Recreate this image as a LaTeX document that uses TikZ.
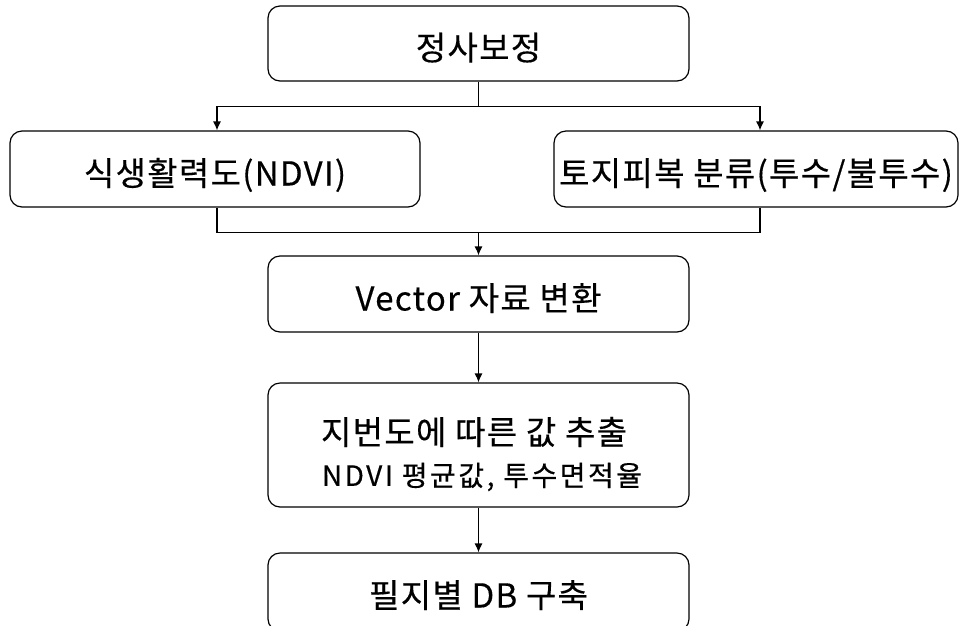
\documentclass[tikz,border=0pt]{standalone}
\usepackage{fontspec}
\setmainfont{Noto Sans CJK KR}
\newfontfamily\kr{Noto Sans CJK KR}[LetterSpace=4,FakeBold=0.4]
\newfontfamily\krwide{Noto Sans CJK KR}[LetterSpace=9,FakeBold=0.4]
\usetikzlibrary{arrows.meta}
\begin{document}
\begin{tikzpicture}[x=1pt,y=-1pt,
  box/.style={draw, line width=1.2pt, rounded corners=12pt, inner sep=0pt,
    text height=33pt, text depth=0pt,
    font=\kr\fontsize{33}{38}\selectfont},
  link/.style={line width=1.2pt},
  arr/.style={link, -{Latex[length=9pt,width=8pt]}}]
\useasboundingbox (0,0) rectangle (960,625);

% process boxes
\node[box, minimum width=421pt, minimum height=75pt] (ortho) at (478.5,43.5) {정사보정};
\node[box, minimum width=410pt, minimum height=76pt] (ndvi) at (215,169) {식생활력도(NDVI)};
\node[box, minimum width=404pt, minimum height=76pt] (cover) at (756,169) {토지피복 분류(투수/불투수)};
\node[box, minimum width=421pt, minimum height=76pt] (vec) at (478.5,294) {Vector 자료 변환};
\node[box, minimum width=421pt, minimum height=124pt] (extract) at (478.5,445) {};
\node[font=\kr\fontsize{33}{38}\selectfont] (extracttitle) at (474,432) {지번도에 따른 값 추출};
\node[font=\krwide\fontsize{28}{32}\selectfont] (extractsub) at (482,477) {NDVI 평균값, 투수면적율};
\node[box, minimum width=421pt, minimum height=78pt, text height=31pt] (db) at (478.5,592) {필지별 DB 구축};

% split into two branches
\draw[link] (ortho.south) -- ++(0,25) coordinate (split);
\draw[arr] (split) -| ([xshift=2pt]ndvi.north);
\draw[arr] (split) -| ([xshift=4pt]cover.north);

% merge the branches
\draw[link] ([xshift=2pt]ndvi.south) |- ++(0,25) coordinate (mergeL);
\draw[link] ([xshift=4pt]cover.south) -- ++(0,25) coordinate (mergeR);
\draw[link] (mergeL) -- (mergeR);
\draw[arr] (mergeL -| vec.north) -- (vec.north);

% remaining steps
\draw[arr] (vec.south) -- (extract.north);
\draw[arr] (extract.south) -- (db.north);
\end{tikzpicture}
\end{document}
